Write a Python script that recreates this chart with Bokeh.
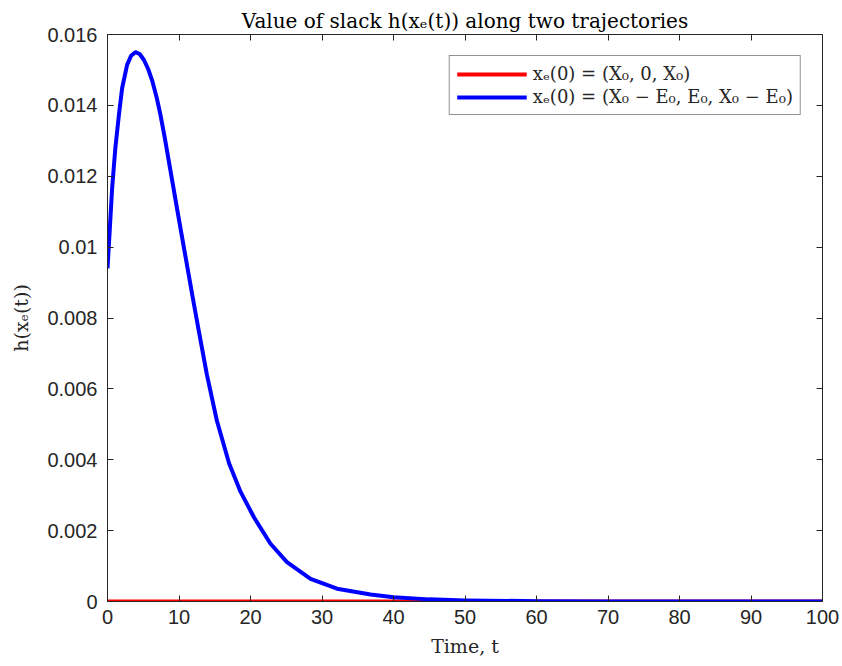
from bokeh.plotting import figure
from bokeh.models import FixedTicker, LinearAxis, Legend, LegendItem, Range1d, CustomJSTickFormatter
from bokeh.embed import file_html
from bokeh.resources import INLINE

# data
t_blue = [0, 0.33, 0.65, 1.1, 1.6, 2.05, 2.75, 3.3, 3.9, 4.5, 5.1, 5.7, 6.25, 6.9, 7.4, 8.0, 8.6,
          9.2, 9.8, 10.5, 11.2, 11.9, 12.8, 13.9, 15.3, 17.0, 18.6, 20.5, 22.8, 25.1, 28.4, 32.1,
          36.8, 40, 45, 50, 60, 70, 80, 100]
h_blue = [0.0094, 0.01054, 0.01167, 0.0128, 0.01374, 0.01449, 0.01515, 0.0154, 0.0155, 0.01545,
          0.01528, 0.01502, 0.0147, 0.0142, 0.01374, 0.0131, 0.0124, 0.0117, 0.0110, 0.0102, 0.0094,
          0.0086, 0.0076, 0.0064, 0.0051, 0.0039, 0.0031, 0.00237, 0.00163, 0.00111, 0.00064,
          0.00036, 0.0002, 0.00012, 0.00006, 0.00003, 0.00001, 0.000003, 0.000001, 0.0]
t_red = [0, 100]
h_red = [0, 0]

x_ticks = [0, 10, 20, 30, 40, 50, 60, 70, 80, 90, 100]
y_ticks = [0, 0.002, 0.004, 0.006, 0.008, 0.01, 0.012, 0.014, 0.016]
y_tick_labels = ["0", "0.002", "0.004", "0.006", "0.008", "0.01", "0.012", "0.014", "0.016"]

title_text = "Value of slack h(x\u2091(t)) along two trajectories"
xlabel = "Time, t"
ylabel = "h(x\u2091(t))"
legend_labels = ["x\u2091(0) = (X\u2080, 0, X\u2080)",
                 "x\u2091(0) = (X\u2080 \u2212 E\u2080, E\u2080, X\u2080 \u2212 E\u2080)"]

AX = "#262626"
SERIF = "DejaVu Serif"
SANS = "Liberation Sans"

p = figure(width=842, height=666, output_backend="svg", toolbar_location=None,
           x_range=Range1d(0, 100), y_range=Range1d(0, 0.016),
           min_border_left=107, min_border_right=20, min_border_top=34, min_border_bottom=65)
p.background_fill_color = "white"
p.border_fill_color = "white"
p.outline_line_color = AX
p.outline_line_width = 1
p.grid.visible = False

p.title.text = title_text
p.title.text_font = SERIF
p.title.text_font_size = "20px"
p.title.text_font_style = "normal"
p.title.text_color = "black"
p.title.align = "center"
p.title.standoff = 3

for ax in p.xaxis + p.yaxis:
    ax.axis_line_color = AX
    ax.major_tick_line_color = AX
    ax.major_tick_in = 6
    ax.major_tick_out = 0
    ax.minor_tick_line_color = None
    ax.major_label_text_font = SANS
    ax.major_label_text_font_size = "20px"
    ax.major_label_text_color = AX
    ax.axis_label_text_font = SERIF
    ax.axis_label_text_font_size = "19px"
    ax.axis_label_text_font_style = "normal"
    ax.axis_label_text_color = AX

p.xaxis.ticker = FixedTicker(ticks=x_ticks)
p.yaxis.ticker = FixedTicker(ticks=y_ticks)
p.yaxis.major_label_overrides = {v: s for v, s in zip(y_ticks, y_tick_labels)}
p.xaxis.axis_label = xlabel
p.yaxis.axis_label = ylabel
p.xaxis.major_label_standoff = 8
p.yaxis.major_label_standoff = 10
p.xaxis.axis_label_standoff = 8
p.yaxis.axis_label_standoff = 12

blank = CustomJSTickFormatter(code="return ''")
top = LinearAxis(ticker=FixedTicker(ticks=x_ticks), formatter=blank,
                 major_tick_in=6, major_tick_out=0, minor_tick_line_color=None,
                 axis_line_color=AX, major_tick_line_color=AX, major_label_standoff=0)
right = LinearAxis(ticker=FixedTicker(ticks=y_ticks), formatter=blank,
                   major_tick_in=6, major_tick_out=0, minor_tick_line_color=None,
                   axis_line_color=AX, major_tick_line_color=AX, major_label_standoff=0)
p.add_layout(top, "above")
p.add_layout(right, "right")

r_red = p.line(t_red, h_red, line_color="#ff0000", line_width=4)
r_blue = p.line(t_blue, h_blue, line_color="#0000ff", line_width=4, line_join="round")

legend = Legend(items=[LegendItem(label=legend_labels[0], renderers=[r_red]),
                       LegendItem(label=legend_labels[1], renderers=[r_blue])],
                location="top_right")
legend.margin = 21
legend.padding = 7
legend.spacing = 2
legend.glyph_width = 70
legend.glyph_height = 20
legend.label_height = 20
legend.label_standoff = 6
legend.label_text_font = SERIF
legend.label_text_font_size = "18px"
legend.label_text_color = AX
legend.border_line_color = AX
legend.border_line_width = 1
legend.background_fill_color = "white"
legend.background_fill_alpha = 1
p.add_layout(legend)

open("out.html", "w").write(file_html(p, INLINE))
